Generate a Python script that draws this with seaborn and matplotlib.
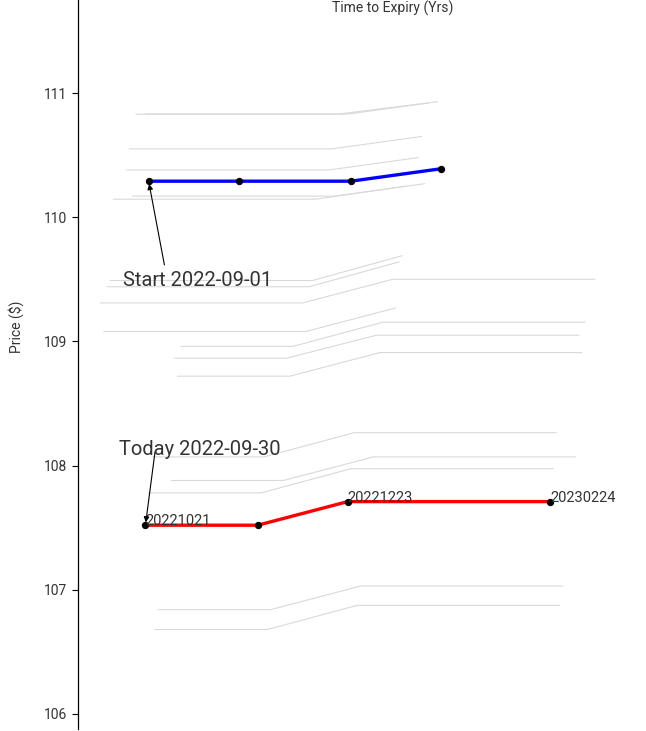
import numpy as np
import pandas as pd
import seaborn as sns
import matplotlib.pyplot as plt

# contract expiries and the ones labelled on today's curve
expiries = ["2022-09-23", "2022-10-21", "2022-11-25", "2022-12-23", "2023-02-24"]
expiry_labels = ["20221021", "20221223", "20230224"]

start_date = "2022-09-01"
start_prices = [110.29, 110.29, 110.29, 110.39, np.nan]

today_date = "2022-09-30"
today_prices = [np.nan, 107.52, 107.52, 107.71, 107.71]

# historical daily curves between start and today (one row per date, one column per expiry)
hist_dates = ["2022-09-02", "2022-09-05", "2022-09-06", "2022-09-07", "2022-09-08",
              "2022-09-12", "2022-09-13", "2022-09-14", "2022-09-15", "2022-09-16",
              "2022-09-19", "2022-09-20", "2022-09-21", "2022-09-22", "2022-09-26",
              "2022-09-27", "2022-09-28", "2022-09-29"]
hist_prices = [
    [110.83, 110.83, 110.83, 110.93, np.nan],
    [110.83, 110.83, 110.83, 110.92, np.nan],
    [110.17, 110.17, 110.17, 110.27, np.nan],
    [110.55, 110.55, 110.55, 110.65, np.nan],
    [110.38, 110.38, 110.38, 110.48, np.nan],
    [110.145, 110.145, 110.145, 110.25, np.nan],
    [109.49, 109.49, 109.49, 109.69, np.nan],
    [109.44, 109.44, 109.44, 109.64, np.nan],
    [109.08, 109.08, 109.08, 109.27, np.nan],
    [109.31, 109.31, 109.31, 109.50, 109.50],
    [np.nan, 108.96, 108.96, 109.155, 109.155],
    [np.nan, 108.72, 108.72, 108.91, 108.91],
    [np.nan, 108.865, 108.865, 109.05, 109.05],
    [np.nan, 107.88, 107.88, 108.07, 108.07],
    [np.nan, 106.84, 106.84, 107.03, 107.03],
    [np.nan, 106.68, 106.68, 106.875, 106.875],
    [np.nan, 108.07, 108.07, 108.265, 108.265],
    [np.nan, 107.78, 107.78, 107.975, 107.975],
]


def curve(date, prices):
    df = pd.DataFrame({"expiry": pd.to_datetime(expiries), "price": prices})
    df["tte"] = (df["expiry"] - pd.Timestamp(date)).dt.days / 365
    df["label"] = df["expiry"].dt.strftime("%Y%m%d")
    df["date"] = date
    return df.dropna(subset=["price"]).reset_index(drop=True)


hist = pd.concat([curve(d, p) for d, p in zip(hist_dates, hist_prices)], ignore_index=True)
start = curve(start_date, start_prices)
today = curve(today_date, today_prices)

sns.set_style("ticks")
plt.rcParams["font.family"] = ["Roboto", "DejaVu Sans"]

fig = plt.figure(figsize=(6.46, 7.31), dpi=100)
ax = fig.add_axes([78 / 646, 2 / 731, 1 - 78 / 646, 729 / 731])

sns.lineplot(data=hist, x="tte", y="price", units="date", estimator=None,
             color="#d9d9d9", lw=0.8, legend=False, ax=ax)
sns.lineplot(data=start, x="tte", y="price", color="blue", lw=2.4, marker="o",
             markersize=4.5, markerfacecolor="black", markeredgecolor="black", ax=ax)
sns.lineplot(data=today, x="tte", y="price", color="red", lw=2.4, marker="o",
             markersize=4.5, markerfacecolor="black", markeredgecolor="black", ax=ax)

for _, row in today[today["label"].isin(expiry_labels)].iterrows():
    ax.text(row["tte"], row["price"], row["label"], fontsize=10.5, color="#333333",
            ha="left", va="baseline")

ax.annotate("Start " + start_date, xy=(start["tte"][0], start["price"][0]),
            xytext=(0.038, 109.447), ha="left", va="baseline", fontsize=14.5, color="#333333",
            arrowprops=dict(arrowstyle="-|>", color="black", lw=0.8, mutation_scale=8,
                            relpos=(0.3, 0.5)))
ax.annotate("Today " + today_date, xy=(today["tte"][0], today["price"][0]),
            xytext=(0.0354, 108.083), ha="left", va="baseline", fontsize=14.5, color="#333333",
            arrowprops=dict(arrowstyle="-|>", color="black", lw=0.8, mutation_scale=8,
                            relpos=(0.22, 0.4), patchA=None, shrinkA=0))

ax.set_xlim(0, 0.4847)
ax.set_ylim(105.879, 111.749)
ax.set_xticks([])
ax.set_yticks([106, 107, 108, 109, 110, 111])
ax.tick_params(axis="y", length=4, width=0.8, labelsize=10, colors="#333333")
ax.tick_params(axis="y", color="black")

ax.set_xlabel("Time to Expiry (Yrs)", fontsize=10, color="#333333")
ax.xaxis.set_label_position("top")
ax.xaxis.label.set_va("center")
ax.xaxis.set_label_coords(0.5546, 0.989)
ax.set_ylabel("Price ($)", fontsize=10, color="#333333")
ax.yaxis.label.set_va("center")
ax.yaxis.set_label_coords(-0.109, 0.5514)

sns.despine(ax=ax, top=True, right=True, bottom=True)
ax.spines["left"].set_color("black")
ax.spines["left"].set_linewidth(0.9)

fig.savefig("out.png", dpi=100)
